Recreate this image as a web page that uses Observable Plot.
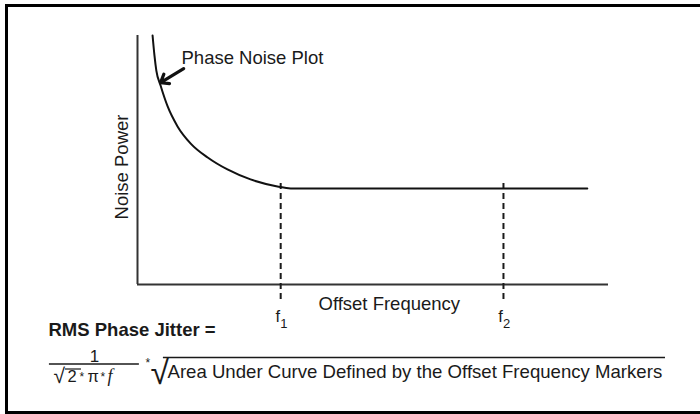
<!DOCTYPE html>
<html>
<head>
<meta charset="utf-8">
<script src="https://cdn.jsdelivr.net/npm/d3@7"></script>
<script src="https://cdn.jsdelivr.net/npm/@observablehq/plot@0.6"></script>
<style>
  html, body { margin: 0; padding: 0; background: #fff; overflow: hidden; }
  #wrap { position: relative; width: 700px; height: 414px; overflow: hidden; }
  #border { position: absolute; left: 5px; top: 4px; width: 800px; height: 410px; box-sizing: border-box;
            border-left: 3px solid #000; border-top: 3px solid #000; border-bottom: 3px solid #000; }
  #chart { position: absolute; left: 0; top: 0; }
</style>
</head>
<body>
<div id="wrap"><div id="border"></div><div id="chart"></div></div>
<script>
// Phase noise curve (arbitrary units)
const offsetFreq = [3.2, 3.6, 4.0, 4.9, 6.4, 8.5, 11.3, 14.9, 19.1, 24.0, 29.7, 32.5, 95.5];
const noisePower = [100, 92.0, 85.9, 79.9, 71.5, 63.5, 56.6, 51.0, 46.2, 42.2, 39.4, 38.6, 38.6];
// Offset frequency markers
const markerFreqs = [30.4, 77.7];
const markerNames = ["f", "f"];
const markerSubs = ["1", "2"];
const markerTop = [40.6, 40.6];
const markerBottom = [-7.6, -7.6];
// Arrow pointing at the curve
const arrowFrom = [9.8, 86.7];
const arrowTo = [4.9, 81.1];
// Texts
const curveLabel = "Phase Noise Plot";
const xLabel = "Offset Frequency";
const yLabel = "Noise Power";
const formulaTitle = "RMS Phase Jitter =";
const formulaArea = "Area Under Curve Defined by the Offset Frequency Markers";

const curve = offsetFreq.map((f, i) => ({f, p: noisePower[i]}));
const markers = markerFreqs.map((f, i) => ({f, name: markerNames[i], sub: markerSubs[i], y1: markerTop[i], y2: markerBottom[i]}));

const ink = "#1a1a1a";
const font = "'Liberation Sans', Arial, Helvetica, sans-serif";
const one = [0];
const t = (text, o) => Plot.text(one, {text: () => text, frameAnchor: "bottom-left", lineAnchor: "bottom", textAnchor: "start", fill: ink, fontSize: 18.5, ...o});

const chart = Plot.plot({
  width: 700,
  height: 414,
  marginLeft: 137,
  marginRight: 92,
  marginTop: 35,
  marginBottom: 130,
  style: {background: "transparent", fontFamily: font, overflow: "visible"},
  x: {domain: [0, 100], axis: null},
  y: {domain: [0, 100], axis: null},
  marks: [
    // axes
    Plot.ruleX([0], {y1: 0, y2: 100, stroke: "#333", strokeWidth: 2}),
    Plot.ruleY([0], {x1: 0, x2: 100, stroke: "#333", strokeWidth: 2}),
    // marker dashed lines
    Plot.ruleX(markers, {x: "f", y1: "y1", y2: "y2", stroke: ink, strokeWidth: 2, strokeDasharray: "6,4"}),
    // curve
    Plot.line(curve, {x: "f", y: "p", curve: "monotone-x", stroke: "#111", strokeWidth: 2}),
    // arrow
    Plot.arrow(one, {x1: () => arrowFrom[0], y1: () => arrowFrom[1], x2: () => arrowTo[0], y2: () => arrowTo[1],
      stroke: "#111", strokeWidth: 3.2, headLength: 10, headAngle: 75}),
    // curve label
    Plot.text(one, {text: () => curveLabel, frameAnchor: "top-left", dx: 44, dy: 28, lineAnchor: "bottom", textAnchor: "start", fill: ink, fontSize: 18.5}),
    // axis labels
    t(xLabel, {dx: 181, dy: 25}),
    Plot.text(one, {text: () => yLabel, frameAnchor: "left", dx: -10, dy: 7, rotate: -90, lineAnchor: "bottom", textAnchor: "middle", fill: ink, fontSize: 18.5}),
    // marker labels
    Plot.text(markers, {x: "f", text: "name", frameAnchor: "bottom", dx: -0.5, dy: 37, lineAnchor: "bottom", textAnchor: "end", fill: ink, fontSize: 16.5}),
    Plot.text(markers, {x: "f", text: "sub", frameAnchor: "bottom", dx: -0.5, dy: 43, lineAnchor: "bottom", textAnchor: "start", fill: ink, fontSize: 13}),
    // formula
    t(formulaTitle, {dx: -89, dy: 51, fontWeight: "bold"}),
    t("1", {dx: -43, dy: 77, textAnchor: "middle", fontSize: 17}),
    Plot.ruleY([0], {x1: -18.7, x2: 0.4, dy: 79.5, stroke: ink, strokeWidth: 1.5}),
    t("\u221A", {dx: -84, dy: 98, fontSize: 21}),
    Plot.ruleY([0], {x1: -15.3, x2: -11.9, dy: 84.5, stroke: ink, strokeWidth: 1.2}),
    t("2", {dx: -70, dy: 97, fontSize: 16.5}),
    t("*", {dx: -58, dy: 96.5, fontSize: 12}),
    t("\u03C0", {dx: -50, dy: 97, fontSize: 16.5}),
    t("*", {dx: -37, dy: 96.5, fontSize: 12}),
    t("f", {dx: -30, dy: 97, fontSize: 18, fontStyle: "italic", fontFamily: "'Liberation Serif', 'Times New Roman', serif"}),
    t("*", {dx: 8, dy: 82, fontSize: 12}),
    t("\u221A", {dx: 13, dy: 99, fontSize: 34}),
    Plot.ruleY([0], {x1: 5.5, x2: 112.1, dy: 73, stroke: ink, strokeWidth: 1.5}),
    t(formulaArea, {dx: 30, dy: 93, fontSize: 18.6})
  ]
});
document.getElementById("chart").appendChild(chart);
</script>
</body>
</html>
